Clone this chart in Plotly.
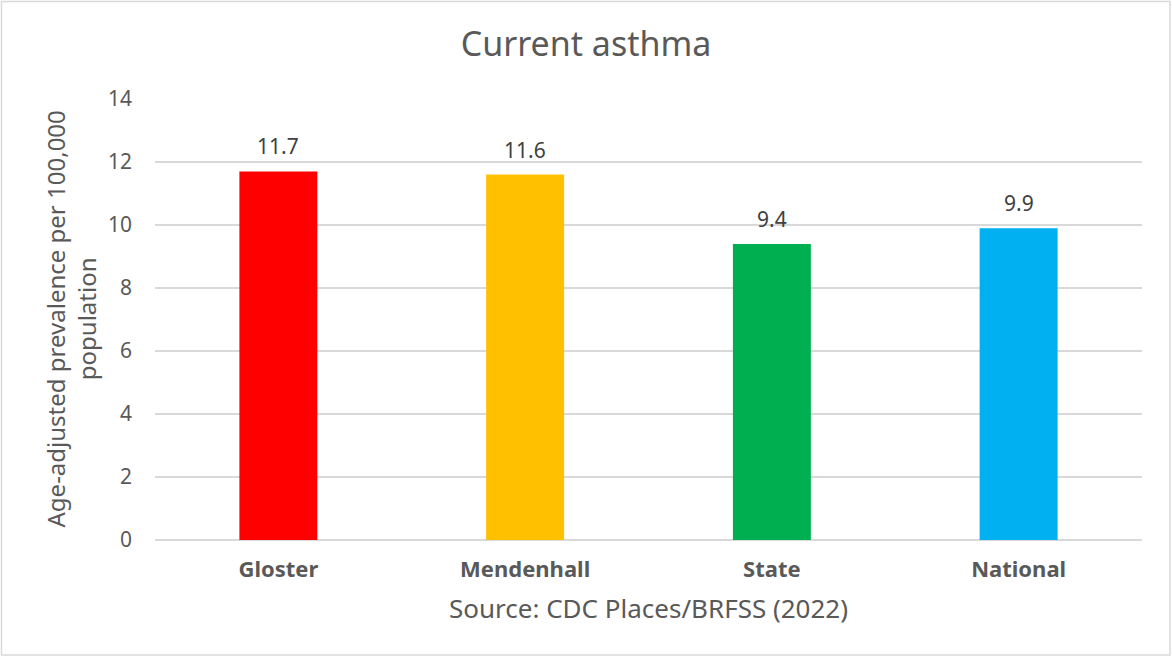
import plotly.graph_objects as go

# Current asthma, age-adjusted prevalence
places = ["Gloster", "Mendenhall", "State", "National"]
prevalence = [11.7, 11.6, 9.4, 9.9]
bar_colors = ["#FF0000", "#FFC000", "#00B050", "#00B0F0"]
y_ticks = [0, 2, 4, 6, 8, 10, 12, 14]

W, H = 1172, 657
ML, MR, MT, MB = 155, 30, 99, 117
PW, PH = W - ML - MR, H - MT - MB

FONT = "Noto Sans, Open Sans, sans-serif"
GREY = "#595959"

fig = go.Figure(
    go.Bar(
        x=places,
        y=prevalence,
        marker=dict(color=bar_colors, line=dict(width=0)),
        width=0.316,
        hoverinfo="x+y",
    )
)

# value labels above each bar
value_labels = [
    dict(
        x=p,
        y=v,
        xref="x",
        yref="y",
        text=f"{v:.1f}",
        showarrow=False,
        yanchor="middle",
        yshift=25,
        font=dict(family=FONT, size=21, color="#404040"),
    )
    for p, v in zip(places, prevalence)
]

fig.update_layout(
    width=W,
    height=H,
    margin=dict(l=ML, r=MR, t=MT, b=MB),
    paper_bgcolor="white",
    plot_bgcolor="white",
    showlegend=False,
    font=dict(family=FONT, color=GREY),
    title=dict(
        text="Current asthma",
        x=0.5,
        xanchor="center",
        y=1 - 44 / H,
        yanchor="middle",
        font=dict(family=FONT, size=34, color=GREY),
    ),
    xaxis=dict(
        showgrid=False,
        showline=False,
        ticks="",
        ticklabelstandoff=14,
        tickfont=dict(family=FONT, size=22, color=GREY, weight="bold"),
    ),
    yaxis=dict(
        range=[0, 14],
        tickvals=y_ticks,
        showgrid=True,
        gridcolor="#D9D9D9",
        gridwidth=1.5,
        zeroline=True,
        zerolinecolor="#D9D9D9",
        zerolinewidth=1.5,
        showline=False,
        ticks="",
        ticklabelstandoff=22,
        tickfont=dict(family=FONT, size=21, color=GREY),
    ),
    annotations=value_labels
    + [
        dict(
            text="Age-adjusted prevalence per 100,000<br>population",
            xref="paper",
            yref="paper",
            x=-(ML - 70) / PW,
            y=0.5,
            xanchor="center",
            yanchor="middle",
            textangle=-90,
            showarrow=False,
            font=dict(family=FONT, size=24, color=GREY),
        ),
        dict(
            text="Source: CDC Places/BRFSS (2022)",
            xref="paper",
            yref="paper",
            x=0.5,
            y=-(608 - (MT + PH)) / PH,
            xanchor="center",
            yanchor="middle",
            showarrow=False,
            font=dict(family=FONT, size=26, color=GREY),
        ),
    ],
    shapes=[
        dict(
            type="rect",
            xref="paper",
            yref="paper",
            x0=-(ML - 1.5) / PW,
            x1=1 + (MR - 2) / PW,
            y0=-(MB - 2) / PH,
            y1=1 + (MT - 1.5) / PH,
            line=dict(color="#D9D9D9", width=1.5),
            fillcolor="rgba(0,0,0,0)",
            layer="below",
        )
    ],
)

fig.write_html("out.html")
